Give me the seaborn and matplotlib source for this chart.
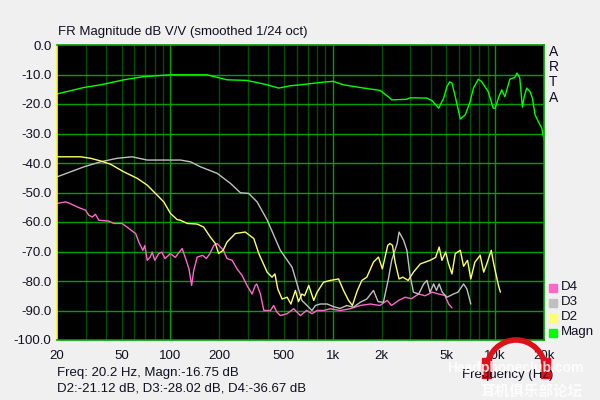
import numpy as np
import pandas as pd
import seaborn as sns
import matplotlib.pyplot as plt
from matplotlib.patches import Arc, Rectangle

# Magnitude (green)
magn_freq = [20, 29.3, 37.1, 51.6, 68.5, 100, 168, 223, 296, 394, 464, 548, 631,
             837, 1000, 1164, 1550, 1956, 2249, 2304, 2850, 2990, 3803, 4087, 4489,
             4818, 5050, 5240, 5420, 5680, 6100, 6540, 7010, 7350, 7870, 8250, 9060,
             9720, 10000, 10470, 10970, 11480, 12320, 13200, 13650, 14180, 14720,
             15100, 15650, 16400, 16950, 17620, 18460, 19370, 20000]
magn_db = [-16.6, -14.4, -13.5, -11.8, -10.7, -10.1, -10.1, -11.8, -12.0, -13.5, -14.6,
           -13.8, -13.5, -12.7, -12.3, -13.5, -14.6, -15.4, -18.0, -18.6, -18.4, -17.9,
           -18.0, -18.9, -21.4, -18.0, -14.1, -12.5, -12.9, -17.5, -25.1, -23.7, -19.2,
           -14.6, -11.6, -12.4, -15.8, -21.4, -21.5, -18.0, -15.2, -17.5, -11.6, -11.0,
           -9.5, -11.2, -21.1, -17.5, -14.6, -15.8, -18.0, -23.7, -26.0, -28.2, -32.2]

# D2 (yellow)
d2_freq = [20, 28, 32.2, 37.1, 42.7, 51.6, 62.4, 71.9, 82.8, 91, 100, 110, 115, 127,
           146, 160, 176, 189, 198, 211, 223, 251, 289, 326, 350, 394, 422, 440, 458,
           487, 523, 552, 588, 615, 645, 670, 711, 763, 800, 877, 965, 1085, 1164,
           1250, 1320, 1417, 1510, 1620, 1780, 1910, 2020, 2180, 2250, 2330, 2420,
           2560, 2700, 2910, 3140, 3460, 3970, 4300, 4520, 4700, 4960, 5150, 5420,
           5680, 6100, 6390, 6760, 7080, 7500, 8090, 8500, 8880, 9460, 9800, 10480,
           10770]
d2_db = [-37.9, -37.9, -38.4, -39.3, -40.4, -43.0, -45.2, -47.5, -50.9, -53.2, -57.1,
         -59.2, -59.4, -60.5, -60.7, -61.7, -65.1, -67.3, -70.7, -69.6, -66.8, -63.9,
         -63.4, -65.6, -70.7, -77.0, -78.7, -77.6, -82.7, -86.1, -85.5, -87.8, -83.2,
         -87.0, -84.4, -85.0, -81.5, -86.6, -83.8, -80.4, -79.8, -79.3, -83.2, -86.6,
         -88.3, -83.2, -79.8, -78.7, -73.6, -71.9, -75.9, -67.9, -67.3, -67.9, -73.6,
         -79.3, -78.7, -79.8, -77.0, -74.2, -73.0, -72.0, -68.5, -73.0, -70.2, -74.0,
         -77.6, -70.7, -69.6, -75.0, -73.0, -79.3, -73.6, -71.3, -77.0, -74.2, -69.6,
         -74.2, -81.5, -83.8]

# D3 (gray)
d3_freq = [20, 29.3, 37.1, 47, 58.1, 71.9, 91, 115, 133, 153, 194, 234, 270, 303, 342,
           394, 475, 561, 602, 645, 694, 744, 781, 837, 923, 1010, 1110, 1220, 1340,
           1476, 1620, 1780, 1900, 2050, 2200, 2305, 2490, 2560, 2730, 2860, 2990,
           3140, 3380, 3630, 3800, 3970, 4180, 4350, 4520, 4720, 5050, 5540, 5900,
           6390, 6700, 7080]
d3_db = [-44.7, -41.3, -39.6, -38.4, -37.9, -39.0, -39.0, -39.0, -39.6, -41.3, -43.5,
         -46.9, -50.1, -50.3, -53.2, -59.3, -69.6, -75.3, -81.0, -86.6, -88.3, -90.0,
         -88.3, -87.8, -87.8, -88.7, -89.3, -88.3, -88.9, -87.2, -86.1, -83.2, -87.0,
         -87.2, -79.3, -73.0, -67.3, -63.4, -66.2, -69.6, -78.1, -83.8, -84.4, -81.0,
         -79.8, -83.8, -81.0, -83.2, -81.0, -83.8, -85.5, -84.4, -83.8, -81.0, -82.7,
         -87.8]

# D4 (pink)
d4_freq = [20, 22.6, 24, 27.2, 30, 31.4, 33, 34.5, 36.2, 41.7, 44.8, 50.4, 55.4, 61,
           63.8, 67.6, 69.5, 71.9, 75, 77.2, 80, 84.7, 88.5, 92.5, 100, 107, 118, 124,
           130, 135, 139, 146, 158, 166, 175, 185, 194, 203, 212, 223, 240, 257, 276,
           296, 318, 333, 340, 358, 376, 413, 432, 452, 475, 523, 574, 631, 690, 744,
           800, 877, 965, 1110, 1280, 1476, 1700, 1950, 2160, 2300, 2540, 2790, 3050,
           3380, 3700, 4090, 4480, 4900, 5170, 5420]
d4_db = [-53.7, -53.2, -53.7, -55.1, -56.0, -57.7, -58.3, -57.4, -59.4, -59.7, -60.5,
         -60.5, -62.2, -63.9, -66.8, -69.6, -68.0, -73.0, -71.9, -70.2, -73.0, -70.7,
         -70.2, -72.4, -70.7, -72.0, -69.0, -72.4, -75.9, -81.5, -76.5, -71.9, -71.3,
         -72.4, -70.7, -67.9, -67.3, -68.5, -69.6, -72.4, -73.0, -75.9, -78.1, -81.5,
         -84.4, -81.5, -81.0, -84.4, -90.0, -90.0, -88.3, -90.5, -91.7, -91.1, -89.4,
         -91.7, -90.0, -91.1, -90.0, -90.0, -89.4, -90.0, -89.4, -88.3, -87.8, -88.3,
         -86.6, -88.3, -86.6, -85.5, -86.0, -84.4, -85.0, -83.8, -84.4, -84.9, -87.8,
         -89.1]

series = ["Magn", "D2", "D3", "D4"]
colors = {"Magn": "#00ff00", "D2": "#ffff66", "D3": "#c0c0c0", "D4": "#ff66cc"}

frames = []
for name, f, v in [("Magn", magn_freq, magn_db), ("D2", d2_freq, d2_db),
                   ("D3", d3_freq, d3_db), ("D4", d4_freq, d4_db)]:
    frames.append(pd.DataFrame({"freq": f, "db": v, "curve": name}))
df = pd.concat(frames, ignore_index=True)

xticks = [20, 50, 100, 200, 500, 1000, 2000, 5000, 10000, 20000]
xticklabels = ["20", "50", "100", "200", "500", "1k", "2k", "5k", "10k", "20k"]
yticks = list(range(0, -101, -10))

sns.set_style("dark")
plt.rcParams["font.family"] = ["Liberation Sans", "Noto Sans CJK SC", "DejaVu Sans"]

bg = "#f0f0f0"
fig = plt.figure(figsize=(6, 4), dpi=100, facecolor=bg)
ax = fig.add_axes([0.095, 0.15, 0.8117, 0.7375])
ax.set_facecolor("black")

sns.lineplot(data=df, x="freq", y="db", hue="curve", hue_order=series[::-1],
             palette=colors, sort=False, estimator=None, lw=1.0, ax=ax,
             legend=False)
ax.set_xscale("log")
ax.set_xlim(20, 20000)
ax.set_ylim(-100, 0)

# grid
minor = [m * d for d in (10, 100, 1000) for m in range(2, 10)]
for xv in minor:
    if 20 < xv < 20000:
        ax.axvline(xv, color="#004d08", lw=1.0, zorder=0)
for xv in (100, 1000, 10000):
    ax.axvline(xv, color="#00a000", lw=1.0, zorder=0.5)
for yv in yticks[1:-1]:
    ax.axhline(yv, color="#00a000", lw=1.0, zorder=0.5)

ax.set_xticks(xticks)
ax.set_xticklabels(xticklabels)
ax.xaxis.set_minor_locator(plt.NullLocator())
ax.set_yticks(yticks)
ax.set_yticklabels([f"{v:.1f}" for v in yticks])
ax.tick_params(length=0, labelsize=9.5, colors="#101020", pad=4)
ax.tick_params(axis="x", pad=7)
ax.grid(False)
ax.set_xlabel("")
ax.set_ylabel("")
for s in ax.spines.values():
    s.set_color("#00a000")
    s.set_linewidth(1.2)
    s.set_visible(True)
ax.spines["left"].set_color("#ffff00")

fig.text(0.097, 0.905, "FR Magnitude dB V/V (smoothed 1/24 oct)", fontsize=9.5,
         color="#101020", va="bottom")
for i, ch in enumerate("ARTA"):
    fig.text(0.915, 0.87 - i * 0.038, ch, fontsize=10, color="#101020", va="center")

# legend boxes
for i, name in enumerate(["D4", "D3", "D2", "Magn"]):
    yy = 0.282 - i * 0.0375
    fig.patches.append(Rectangle((0.915, yy - 0.011), 0.013, 0.02,
                                 transform=fig.transFigure, color=colors[name]))
    fig.text(0.935, yy, name, fontsize=9.5, color="#101020", va="center")

fig.text(0.095, 0.068, "Freq: 20.2 Hz, Magn:-16.75 dB", fontsize=9.5, color="#101020",
         va="center")
fig.text(0.095, 0.028, "D2:-21.12 dB, D3:-28.02 dB, D4:-36.67 dB", fontsize=9.5,
         color="#101020", va="center")
fig.text(0.77, 0.063, "Frequency (Hz)", fontsize=9.5, color="#101020", va="center")

# watermark
fig.patches.append(Arc((0.86, 0.07), 0.1, 0.16, theta1=10, theta2=170,
                       transform=fig.transFigure, color="#e0101a", lw=4))
fig.patches.append(Rectangle((0.803, 0.055), 0.016, 0.05, transform=fig.transFigure,
                             color="#e0101a"))
fig.patches.append(Rectangle((0.901, 0.055), 0.016, 0.05, transform=fig.transFigure,
                             color="#e0101a"))
fig.text(0.745, 0.08, "Headphoneclub.com", fontsize=10, color="white", alpha=0.85,
         va="center", fontweight="bold")
fig.text(0.8, 0.02, "耳机俱乐部论坛", fontsize=10.5, color="white", alpha=0.85,
         va="center", fontweight="bold")

fig.savefig("out.png", dpi=100, facecolor=bg)
